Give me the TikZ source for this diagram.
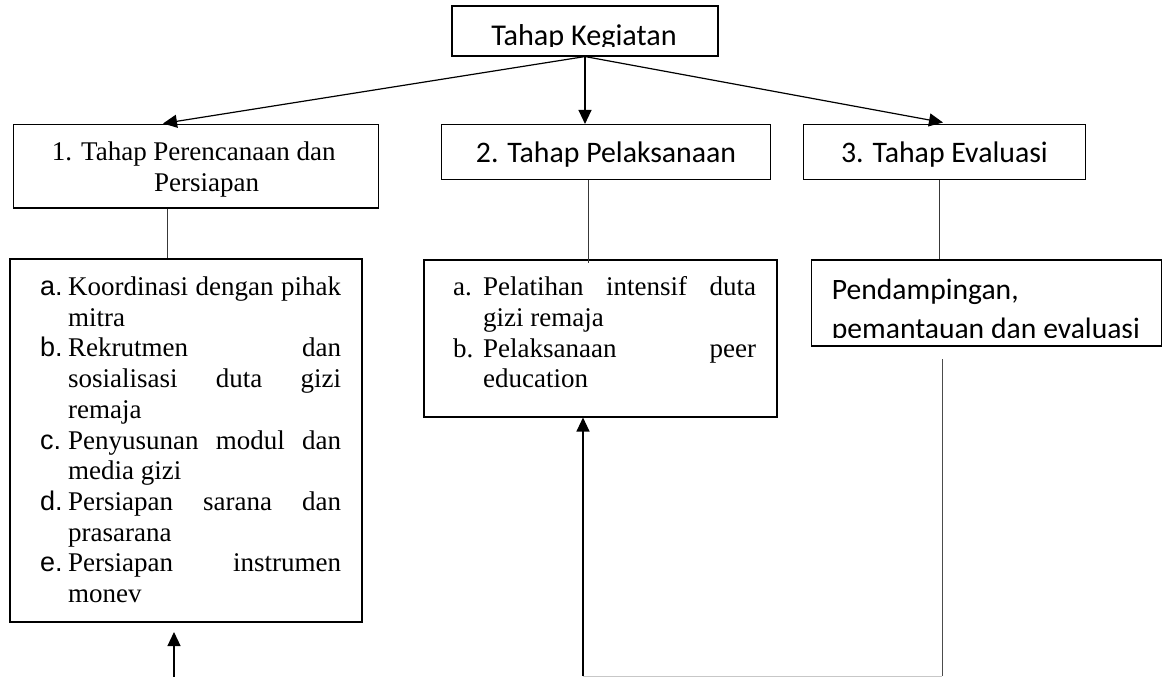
\documentclass[tikz,border=0pt]{standalone}
\usepackage{fontspec}
\setmainfont{Liberation Serif}
\setsansfont{Carlito}
\newfontfamily\arialfont{Liberation Sans}
\usetikzlibrary{arrows.meta}
\newcommand\itemlab[1]{\makebox[28pt][l]{\arialfont #1}}
\newcommand\itemlabs[1]{\makebox[30pt][l]{#1}}
\newcommand\itemfull[1]{\makebox[273pt][s]{#1}}
\newcommand\itemind{\hspace*{28pt}}
\newcommand\itemindi{\hspace*{30pt}}
\tikzset{
	box/.style={draw, line width=1.1pt, inner sep=0pt},
	link/.style={draw=black!78, line width=1pt},
	feed/.style={line width=1.2pt, -{Triangle[length=14pt,width=13pt]}},
	hdtext/.style={font=\sffamily\fontsize{29.8}{34}\selectfont, inner sep=0pt, text height=21pt, text depth=0pt},
	sertext/.style={font=\fontsize{27}{30.7}\selectfont, inner sep=0pt, align=left},
}

\begin{document}
\begin{tikzpicture}[x=1pt,y=-1pt]
		%%%%% START %%%%%
		\useasboundingbox (0,0) rectangle (1165,677);
		
		\node[box, minimum width=266pt, minimum height=50pt] (keg) at (585,31) {};
		\begin{scope}
			\clip (keg.north west) rectangle ([yshift=10.2pt]keg.south east);
			\node[hdtext, font=\sffamily\fontsize{30.2}{34}\selectfont, anchor=base] (kegtext) at (584,45.3) {Tahap Kegiatan};
		\end{scope}
		
		\node[box, minimum width=365pt, minimum height=83.5pt] (plan) at (195.8,166.2) {};
		\node[sertext, font=\fontsize{27}{31}\selectfont, anchor=north west] (plantext) at (51.7,141.6) {1. Tahap Perencanaan dan\\\hspace*{102.3pt}Persiapan};
		\node[box, hdtext, minimum width=329pt, minimum height=55pt] (impl) at (606,152) {2. Tahap Pelaksanaan};
		\node[box, hdtext, minimum width=282pt, minimum height=55pt] (eva) at (944.4,152) {3. Tahap Evaluasi};
		
		\coordinate (tipL) at (163,123.5);
		\coordinate (tipR) at (943,122.5);
		\draw[feed] (keg.south) -- (tipL);
		\draw[feed] (keg.south) -- (keg.south |- impl.north);
		\draw[feed] (keg.south) -- (tipR);
		
		\node[box, minimum width=352pt, minimum height=363pt] (prep) at (186,440.5) {};
		\node[sertext, anchor=north west] (preptext) at (40,276.6) {%
			\itemlab{a.}\itemfull{Koordinasi dengan pihak}\\
			\itemind mitra\\
			\itemlab{b.}\itemfull{Rekrutmen dan}\\
			\itemind\itemfull{sosialisasi duta gizi}\\
			\itemind remaja\\
			\itemlab{c.}\itemfull{Penyusunan modul dan}\\
			\itemind media gizi\\
			\itemlab{d.}\itemfull{Persiapan sarana dan}\\
			\itemind prasarana\\
			\itemlab{e.}\itemfull{Persiapan instrumen}\\
			\itemind monev};
		
		\node[box, minimum width=353pt, minimum height=157pt] (exec) at (600.5,338.5) {};
		\node[sertext, anchor=north west] (exectext) at (453,276.6) {%
			\itemlabs{a.}\itemfull{Pelatihan intensif duta}\\
			\itemindi gizi remaja\\
			\itemlabs{b.}\itemfull{Pelaksanaan peer}\\
			\itemindi education};
		
		\node[box, minimum width=350pt, minimum height=86pt] (evalbox) at (986.7,303) {};
		\begin{scope}
			\clip (evalbox.north west) rectangle ([yshift=8.7pt]evalbox.south east);
			\node[font=\sffamily\fontsize{29.6}{39.5}\selectfont, inner sep=0pt, align=left, anchor=north west] (evaltext) at (831.7,278.7) {Pendampingan,\\\makebox[308pt][s]{pemantauan dan evaluasi}};
		\end{scope}
		
		\coordinate (xa) at (167.3,0);
		\coordinate (xb) at (588.3,0);
		\coordinate (xc) at (939,0);
		\draw[link] (xa |- plan.south) -- (xa |- prep.north);
		\draw[link] (xb |- impl.south) -- ([yshift=-4pt]xb |- exec.north);
		\draw[link] (xc |- eva.south) -- (xc |- evalbox.north);
		
		\coordinate (loopTop) at (942,359);
		\coordinate (loopR) at (942,676);
		\coordinate (loopL) at (583,676);
		\draw[link, draw=black!70] (loopTop) -- (loopR);
		\draw[line width=1pt, draw=black!22] (loopR) -- (loopL);
		\draw[feed] (loopL) -- (loopL |- exec.south);
		
		\coordinate (baseA) at (174,677);
		\coordinate (tipA) at (174,632);
		\draw[feed] (baseA) -- (tipA);
		%%%%% END %%%%%
\end{tikzpicture}
\end{document}
